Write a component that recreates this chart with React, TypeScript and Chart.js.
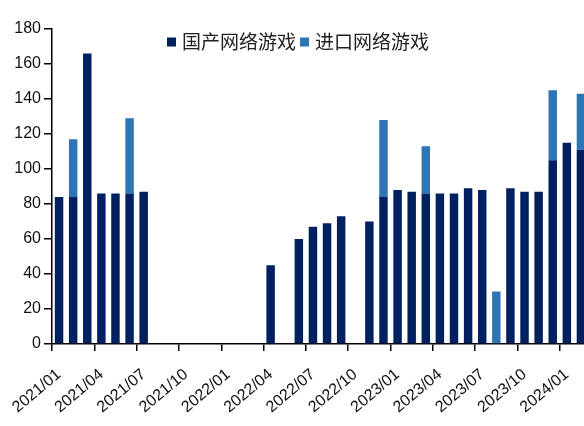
import React, { useEffect, useRef } from "react";
import { Chart, registerables } from "chart.js";

Chart.register(...registerables);

const months: string[] = [
  "2021/01", "2021/02", "2021/03", "2021/04", "2021/05", "2021/06",
  "2021/07", "2021/08", "2021/09", "2021/10", "2021/11", "2021/12",
  "2022/01", "2022/02", "2022/03", "2022/04", "2022/05", "2022/06",
  "2022/07", "2022/08", "2022/09", "2022/10", "2022/11", "2022/12",
  "2023/01", "2023/02", "2023/03", "2023/04", "2023/05", "2023/06",
  "2023/07", "2023/08", "2023/09", "2023/10", "2023/11", "2023/12",
  "2024/01", "2024/02",
];

const domestic: (number | null)[] = [
  84, 84, 166, 86, 86, 86,
  87, null, null, null, null, null,
  null, null, null, 45, null, 60,
  67, 69, 73, null, 70, 84,
  88, 87, 86, 86, 86, 89,
  88, null, 89, 87, 87, 105,
  115, 111,
];

const imported: (number | null)[] = [
  null, 33, null, null, null, 43,
  null, null, null, null, null, null,
  null, null, null, null, null, null,
  null, null, null, null, null, 44,
  null, null, 27, null, null, null,
  null, 30, null, null, null, 40,
  null, 32,
];

const seriesNames = ["国产网络游戏", "进口网络游戏"];
const seriesColors = ["#002060", "#2E75B6"];
const yTicks = { min: 0, max: 180, step: 20 };

const CANVAS_W = 640;
const CANVAS_H = 426;

export default function App() {
  const ref = useRef<HTMLCanvasElement | null>(null);

  useEffect(() => {
    if (!ref.current) return;
    const legendPlugin = {
      id: "customLegend",
      afterDraw(chart: any) {
        const ctx = chart.ctx;
        ctx.save();
        const items = [
          { x: 167, tx: 182, text: seriesNames[0], color: seriesColors[0] },
          { x: 300, tx: 315, text: seriesNames[1], color: seriesColors[1] },
        ];
        ctx.font = '19px "Noto Sans CJK SC", sans-serif';
        ctx.textBaseline = "middle";
        ctx.textAlign = "left";
        for (const it of items) {
          ctx.fillStyle = it.color;
          ctx.fillRect(it.x, 37.5, 9, 9);
          ctx.fillStyle = "#222";
          ctx.fillText(it.text, it.tx, 42);
        }
        ctx.restore();
      },
    };

    const chart = new Chart(ref.current, {
      type: "bar",
      data: {
        labels: months,
        datasets: [
          {
            label: seriesNames[0],
            data: domestic,
            backgroundColor: seriesColors[0],
            barPercentage: 0.6,
            categoryPercentage: 1,
          },
          {
            label: seriesNames[1],
            data: imported,
            backgroundColor: seriesColors[1],
            barPercentage: 0.6,
            categoryPercentage: 1,
          },
        ],
      },
      options: {
        responsive: false,
        animation: false,
        layout: { padding: { top: 29, right: CANVAS_W - 588, left: 0, bottom: 0 } },
        plugins: {
          legend: { display: false },
          tooltip: { enabled: false },
        },
        scales: {
          x: {
            stacked: true,
            offset: true,
            border: { display: true, color: "#000", width: 1.5 },
            grid: {
              offset: true,
              drawOnChartArea: false,
              drawTicks: true,
              tickLength: 7,
              lineWidth: 1.5,
              color: (c: any) => (c.index % 3 === 0 ? "#000" : "rgba(0,0,0,0)"),
            },
            ticks: {
              autoSkip: false,
              minRotation: 40,
              maxRotation: 40,
              color: "#111",
              font: { family: '"Liberation Sans", Arial, sans-serif', size: 16 },
              padding: 14,
              callback: (_v: any, i: number) => (i % 3 === 0 ? months[i] : ""),
            },
            afterFit: (s: any) => {
              s.height = CANVAS_H - 344;
            },
          },
          y: {
            stacked: true,
            min: yTicks.min,
            max: yTicks.max,
            border: { display: true, color: "#000", width: 1.5 },
            grid: {
              drawOnChartArea: false,
              drawTicks: true,
              tickLength: 8,
              lineWidth: 1.5,
              color: "#000",
            },
            ticks: {
              stepSize: yTicks.step,
              color: "#111",
              font: { family: '"Liberation Sans", Arial, sans-serif', size: 16 },
              padding: 3,
            },
            afterFit: (s: any) => {
              s.width = 52;
            },
          },
        },
      },
      plugins: [legendPlugin],
    });
    return () => chart.destroy();
  }, []);

  return (
    <div
      style={{
        position: "fixed",
        left: 0,
        top: 0,
        width: 584,
        height: 426,
        overflow: "hidden",
        background: "#fff",
      }}
    >
      <canvas ref={ref} width={CANVAS_W} height={CANVAS_H} style={{ display: "block" }} />
    </div>
  );
}
